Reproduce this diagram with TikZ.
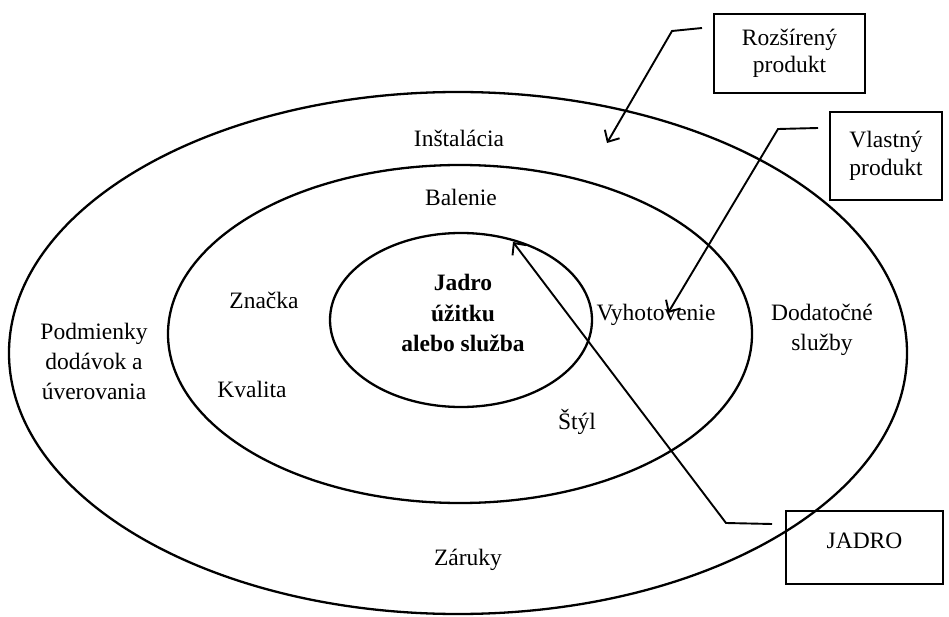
\documentclass[tikz,border=0pt]{standalone}
\usepackage{fontspec}
\setmainfont{Liberation Serif}
\usetikzlibrary{arrows.meta}
\begin{document}
\begin{tikzpicture}[x=1pt,y=-1pt,
  ring/.style={draw, line width=2.3pt},
  lbl/.style={font=\fontsize{23.5}{30}\selectfont, align=center, inner sep=0pt},
  boxnode/.style={draw, line width=2.3pt, align=center, inner sep=0pt, font=\fontsize{23.5}{27}\selectfont},
  arr/.style={line width=1.9pt, -{Straight Barb[length=9pt,width=17pt,line width=1.9pt]}}]
\useasboundingbox (0,0) rectangle (949,617);
% rings
\draw[ring] (458,353) ellipse [x radius=449, y radius=261];
\draw[ring] (460,334) ellipse [x radius=292, y radius=169];
\draw[ring] (461,320) ellipse [x radius=131, y radius=87];
% labels
\node[lbl] (inst) at (459,138) {Inštalácia};
\node[lbl] (bal) at (461,197) {Balenie};
\node[lbl] (zn) at (264,300) {Značka};
\node[lbl] (kv) at (252,389) {Kvalita};
\node[lbl] (podm) at (94,361) {Podmienky\\dodávok a\\úverovania};
\node[lbl, font=\bfseries\fontsize{23.5}{30.5}\selectfont] (core) at (463,313) {Jadro\\úžitku\\alebo služba};
\node[lbl] (vyh) at (656,315) {Vyhotovenie};
\node[lbl] (dod) at (822,330) {Dodatočné\\služby};
\node[lbl] (styl) at (577,422) {Štýl};
\node[lbl] (zar) at (468,560) {Záruky};
% boxes
\node[boxnode, minimum width=151pt, minimum height=79pt] (rbox) at (789.5,53.5) {Rozšírený\\produkt};
\node[boxnode, minimum width=112pt, minimum height=88pt, font=\fontsize{23.5}{28}\selectfont] (vbox) at (886,156) {Vlastný\\produkt};
\node[boxnode, minimum width=157pt, minimum height=73pt] (jbox) at (864.5,547.5) {};
\node[lbl] (jtxt) at (864.5,541) {JADRO};
% arrow coordinates
\coordinate (r1) at (702,28);
\coordinate (r2) at (672,31);
\coordinate (r3) at (607,143);
\coordinate (v1) at (818,128);
\coordinate (v2) at (778,129);
\coordinate (v3) at (668,313);
\coordinate (j1) at (772,524);
\coordinate (j2) at (726,523);
\coordinate (j3) at (513,242);
\draw[arr] (r1) -- (r2) -- (r3);
\draw[arr] (v1) -- (v2) -- (v3);
\draw[arr] (j1) -- (j2) -- (j3);
\end{tikzpicture}
\end{document}
